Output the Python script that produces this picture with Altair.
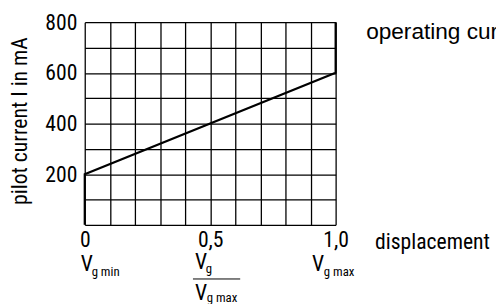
import altair as alt
import pandas as pd

# curve data
displacement = [0.0, 0.0, 1.0, 1.0]
current = [0, 200, 600, 800]
order = [0, 1, 2, 3]

x_grid = [round(i / 10, 1) for i in range(11)]
y_grid = list(range(0, 801, 100))
x_tick_labels = {0.0: "0", 0.5: "0,5", 1.0: "1,0"}

FONT = "Liberation Sans Narrow, Roboto Condensed, DejaVu Sans Condensed, Liberation Sans"
REG = "Liberation Sans, Arial, sans-serif"

df = pd.DataFrame({"x": displacement, "y": current, "o": order})

label_expr = " : ".join(
    [f"datum.value == {k} ? '{v}'" for k, v in x_tick_labels.items()]
) + " : ''"

xs = alt.X("x:Q", scale=alt.Scale(domain=[0, 1], nice=False, zero=False),
           axis=alt.Axis(values=x_grid, grid=True, ticks=False, domain=False,
                         labelExpr=label_expr, labelFont=FONT, labelFontSize=22,
                         labelColor="black", labelPadding=5, title=None,
                         gridColor="black", gridWidth=1.3, gridOpacity=1,
                         labelFlush=False, labelOverlap=False))
ys = alt.Y("y:Q", scale=alt.Scale(domain=[0, 800], nice=False),
           axis=alt.Axis(values=y_grid, grid=True, ticks=False, domain=False,
                         labelExpr="datum.value > 0 && datum.value % 200 == 0 ? datum.label : ''",
                         labelFont=FONT, labelFontSize=22, labelColor="black",
                         labelPadding=8, title="pilot current I in mA",
                         titleFont=FONT, titleFontSize=22, titleFontWeight="normal",
                         titleColor="black", titleAngle=-90, titleX=-66, titleY=100,
                         titleAlign="center", titleBaseline="middle",
                         gridColor="black", gridWidth=1.3, gridOpacity=1,
                         labelOverlap=False, labelFlush=False))

line = alt.Chart(df).mark_line(color="black", strokeWidth=2.2, clip=False).encode(
    x=xs, y=ys, order="o:Q")


def txt(text, x, y, size=22, font=FONT, align="left"):
    return alt.Chart(pd.DataFrame({"t": [text]})).mark_text(
        align=align, baseline="alphabetic", font=font, fontSize=size, color="black"
    ).encode(x=alt.value(x), y=alt.value(y), text="t:N")


sub = 13
layers = [
    line,
    txt("V", -4, 253), txt("g min", 7, 258, sub),
    txt("V", 112, 251), txt("g", 123, 255, sub),
    txt("V", 112, 282), txt("g max", 124, 284, sub),
    txt("V", 231, 253), txt("g max", 243, 258, sub),
    txt("displacement", 295, 231),
    txt("operating curve", 286, 17, 23, REG),
    alt.Chart(pd.DataFrame({"a": [0]})).mark_rule(color="black", strokeWidth=1).encode(
        x=alt.value(110), x2=alt.value(158), y=alt.value(261)),
]

chart = alt.layer(*layers).properties(
    width=255, height=206,
    autosize=alt.AutoSizeParams(type="none"),
    padding={"left": 78, "top": 12, "right": 163, "bottom": 78},
).configure_view(stroke=None)

chart.save("out.html", embed_options={"renderer": "svg", "actions": False})
